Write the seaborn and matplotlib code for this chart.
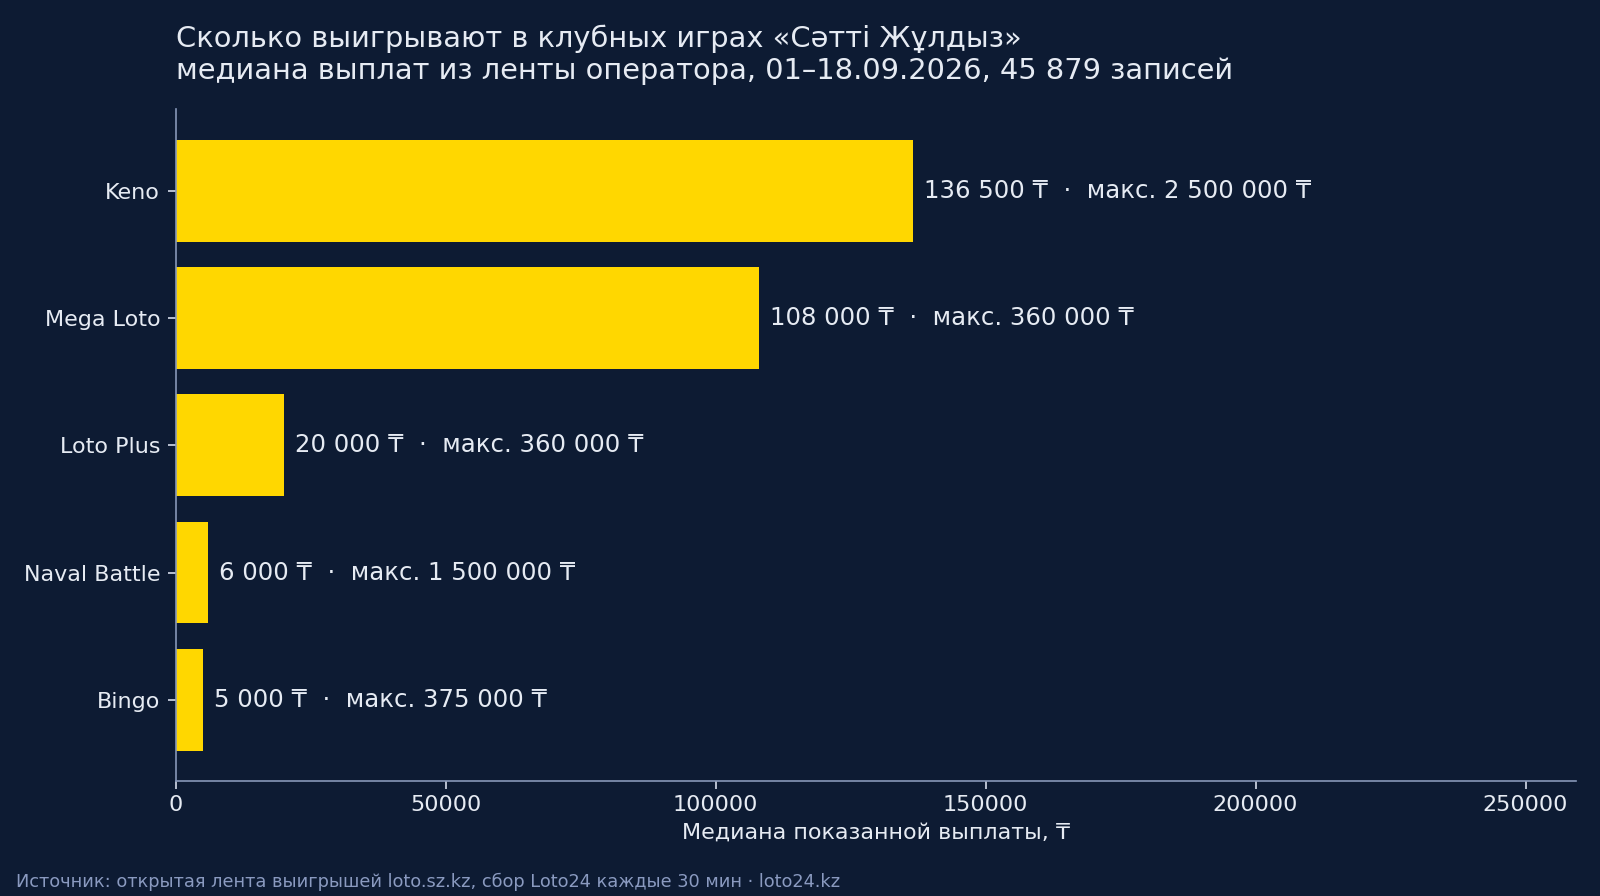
import matplotlib
matplotlib.use("Agg")
import matplotlib.pyplot as plt
import seaborn as sns
import pandas as pd

games = ["Keno", "Mega Loto", "Loto Plus", "Naval Battle", "Bingo"]
median_payout = [136500, 108000, 20000, 6000, 5000]
max_payout = [2500000, 360000, 360000, 1500000, 375000]

title_line1 = "Сколько выигрывают в клубных играх «Сәтті Жұлдыз»"
title_line2 = "медиана выплат из ленты оператора, 01–18.09.2026, 45 879 записей"
x_label = "Медиана показанной выплаты, ₸"
footer = "Источник: открытая лента выигрышей loto.sz.kz, сбор Loto24 каждые 30 мин · loto24.kz"

BG = "#0d1b33"
BAR = "#ffd700"
TXT = "#e6ebf3"
TICK = "#d5dcea"
SPINE = "#8797b8"
FOOT = "#8a9ac0"

sns.set_theme(style="white")
plt.rcParams["font.family"] = ["DejaVu Sans"]

df = pd.DataFrame({"game": games, "median": median_payout, "max": max_payout})

fig = plt.figure(figsize=(16, 8.96), dpi=100, facecolor=BG)
ax = fig.add_axes([0.1097, 0.128, 0.8753, 0.75])
ax.set_facecolor(BG)

sns.barplot(data=df, x="median", y="game", orient="h", color=BAR,
            saturation=1, width=0.8, linewidth=0, edgecolor=BAR, ax=ax)

def fmt(v):
    return f"{v:,}".replace(",", " ")

for i, (m, mx) in enumerate(zip(median_payout, max_payout)):
    ax.annotate(f"{fmt(m)} ₸  ·  макс. {fmt(mx)} ₸", xy=(m, i), xytext=(8, 0),
                textcoords="offset points", ha="left", va="center",
                fontsize=17.6, color=TXT)

ax.set_xlim(0, max(median_payout) * 1.9)
ax.set_ylim(len(games) - 1 + 0.64, -0.64)
ax.set_xlabel(x_label, color=TXT, fontsize=16, labelpad=6)
ax.set_ylabel("")
ax.tick_params(axis="both", colors=TICK, labelcolor=TXT, labelsize=16,
               length=6, width=1.2, left=True, bottom=True)
ax.tick_params(axis="y", pad=5)
for s in ["top", "right"]:
    ax.spines[s].set_visible(False)
for s in ["left", "bottom"]:
    ax.spines[s].set_color(SPINE)
    ax.spines[s].set_linewidth(1.2)

fig.text(0.1097, 0.973, title_line1, ha="left", va="top", fontsize=20.8, color=TXT)
fig.text(0.1097, 0.936, title_line2, ha="left", va="top", fontsize=20.8, color=TXT)
fig.text(0.01, 0.006, footer, ha="left", va="bottom", fontsize=12.8, color=FOOT)

fig.savefig("out.png", dpi=100, facecolor=BG)
